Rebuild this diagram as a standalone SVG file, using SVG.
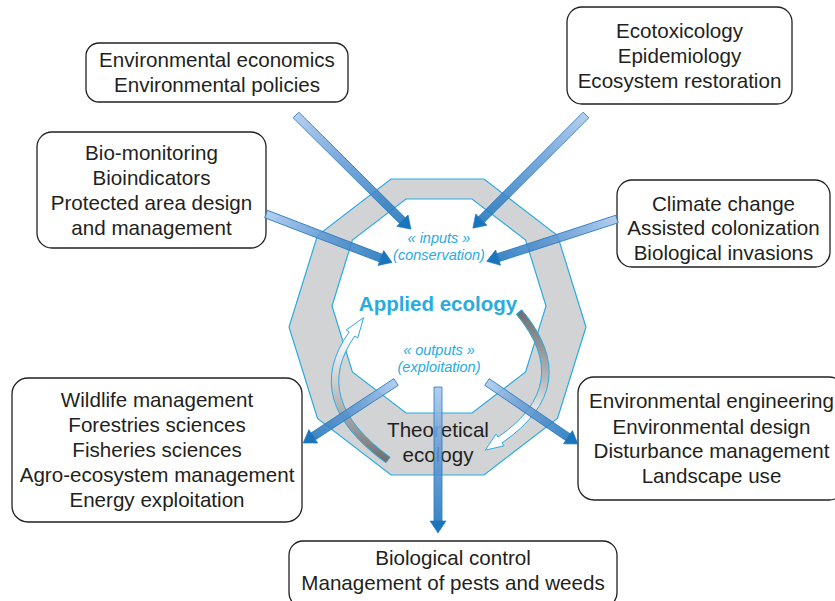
<svg xmlns="http://www.w3.org/2000/svg" width="835" height="601" viewBox="0 0 835 601">
<defs>
<style>
.box{fill:#fff;stroke:#231f20;stroke-width:1.3}
.bt{font-family:"Liberation Sans",Arial,sans-serif;font-size:20.6px;fill:#231f20;text-anchor:middle}
.ring{fill:#d1d3d4;stroke:#29abe2;stroke-width:1.2}
.hole{fill:#fff;stroke:#29abe2;stroke-width:1.2}
.cy{font-family:"Liberation Sans",Arial,sans-serif;fill:#29abe2;text-anchor:middle}
.it{font-style:italic;font-size:14.5px}
.bar{fill:url(#gbar);stroke:#2a79bf;stroke-width:0.8;fill-opacity:0.88}
.head{fill:#1b75bc;stroke:#1b75bc;stroke-width:0.6}
.curve{stroke:#29abe2;stroke-width:1}
</style>
<linearGradient id="gbar" x1="0" y1="0" x2="1" y2="0">
<stop offset="0" stop-color="#a9c8ec"/>
<stop offset="0.4" stop-color="#6a9fd8"/>
<stop offset="1" stop-color="#2176bd"/>
</linearGradient>
<linearGradient id="gleft" gradientUnits="userSpaceOnUse" x1="0" y1="462" x2="0" y2="335">
<stop offset="0" stop-color="#6d6e70"/>
<stop offset="0.45" stop-color="#b4b5b7"/>
<stop offset="1" stop-color="#ffffff"/>
</linearGradient>
<linearGradient id="gright" gradientUnits="userSpaceOnUse" x1="0" y1="310" x2="0" y2="445">
<stop offset="0" stop-color="#6d6e70"/>
<stop offset="0.5" stop-color="#b4b5b7"/>
<stop offset="0.85" stop-color="#ffffff"/>
</linearGradient>
</defs>
<rect width="835" height="601" fill="#fff"/>

<g id="center">
<polygon class="ring" points="391,179 484,179 557.5,235.5 586,327 557.5,418.5 484,475 391,475 317.5,418.5 289,327 317.5,235.5"/>
<polygon class="hole" points="406,199 472,199 525.6,240 546,306 525.6,372 472,413 406,413 352.4,372 332,306 352.4,240"/>
<text class="cy it" x="439" y="243">« inputs »</text>
<text class="cy it" x="439" y="260">(conservation)</text>
<text class="cy" x="438" y="311" font-size="20.5" font-weight="bold">Applied ecology</text>
<text class="cy it" x="439" y="355">« outputs »</text>
<text class="cy it" x="439" y="372">(exploitation)</text>
<text class="bt" x="438" y="437">Theoretical</text>
<text class="bt" x="438" y="462">ecology</text>
<path class="curve" fill="url(#gleft)" d="M385.9 462.8 Q300.1 400.8 349.1 332 L346.3 329.9 L363.6 317.7 L357.7 338.1 L354.9 336 Q309.9 399.2 390.1 457.2 Z"/>
<path class="curve" fill="url(#gright)" d="M521.7 309.8 Q585.2 385.7 502 442.9 L504 445.8 L485.2 450.2 L496 434.2 L498 437.1 Q574.8 384.3 516.3 314.2 Z"/>
</g>

<g id="n-econ">
<rect class="box" x="86" y="43" width="262" height="59" rx="13"/>
<text class="bt" x="217" y="67">Environmental economics</text>
<text class="bt" x="217" y="92">Environmental policies</text>
</g>
<g id="n-ecotox">
<rect class="box" x="567" y="7" width="225" height="97" rx="15"/>
<text class="bt" x="679.5" y="38">Ecotoxicology</text>
<text class="bt" x="679.5" y="63">Epidemiology</text>
<text class="bt" x="679.5" y="88">Ecosystem restoration</text>
</g>
<g id="n-biomon">
<rect class="box" x="37" y="132" width="229" height="116" rx="15"/>
<text class="bt" x="151.5" y="160">Bio-monitoring</text>
<text class="bt" x="151.5" y="185">Bioindicators</text>
<text class="bt" x="151.5" y="210">Protected area design</text>
<text class="bt" x="151.5" y="235">and management</text>
</g>
<g id="n-climate">
<rect class="box" x="617" y="180" width="213" height="87" rx="15"/>
<text class="bt" x="723.5" y="211">Climate change</text>
<text class="bt" x="723.5" y="235">Assisted colonization</text>
<text class="bt" x="723.5" y="260">Biological invasions</text>
</g>
<g id="n-wildlife">
<rect class="box" x="12" y="378" width="290" height="144" rx="16"/>
<text class="bt" x="157" y="407">Wildlife management</text>
<text class="bt" x="157" y="432">Forestries sciences</text>
<text class="bt" x="157" y="457">Fisheries sciences</text>
<text class="bt" x="157" y="482">Agro-ecosystem management</text>
<text class="bt" x="157" y="507">Energy exploitation</text>
</g>
<g id="n-engineering">
<rect class="box" x="578" y="377" width="267" height="123" rx="16"/>
<text class="bt" x="711.5" y="408">Environmental engineering</text>
<text class="bt" x="711.5" y="434">Environmental design</text>
<text class="bt" x="711.5" y="458">Disturbance management</text>
<text class="bt" x="711.5" y="483">Landscape use</text>
</g>
<g id="n-biocontrol">
<rect class="box" x="289" y="541" width="328" height="66" rx="14"/>
<text class="bt" x="453" y="565">Biological control</text>
<text class="bt" x="453" y="590">Management of pests and weeds</text>
</g>

<g id="connectors">
<g transform="translate(296,115) rotate(44.8)"><polygon class="bar" points="0,-4 150,-4 150,4 0,4"/><polygon class="head" points="150,-8 162,0 150,8"/></g>
<g transform="translate(586,115) rotate(135)"><polygon class="bar" points="0,-4 148,-4 148,4 0,4"/><polygon class="head" points="148,-8 160,0 148,8"/></g>
<g transform="translate(266,214) rotate(21)"><polygon class="bar" points="0,-4 123,-4 123,4 0,4"/><polygon class="head" points="123,-8 135,0 123,8"/></g>
<g transform="translate(617,219) rotate(162)"><polygon class="bar" points="0,-4 125,-4 125,4 0,4"/><polygon class="head" points="125,-8 137,0 125,8"/></g>
<g transform="translate(396,382) rotate(146.7)"><polygon class="bar" points="0,-4 99,-4 99,4 0,4"/><polygon class="head" points="99,-8 111,0 99,8"/></g>
<g transform="translate(438,387) rotate(90)"><polygon class="bar" points="0,-4 134,-4 134,4 0,4"/><polygon class="head" points="134,-8 146,0 134,8"/></g>
<g transform="translate(487,382) rotate(34.3)"><polygon class="bar" points="0,-4 98,-4 98,4 0,4"/><polygon class="head" points="98,-8 110,0 98,8"/></g>
</g>
</svg>
